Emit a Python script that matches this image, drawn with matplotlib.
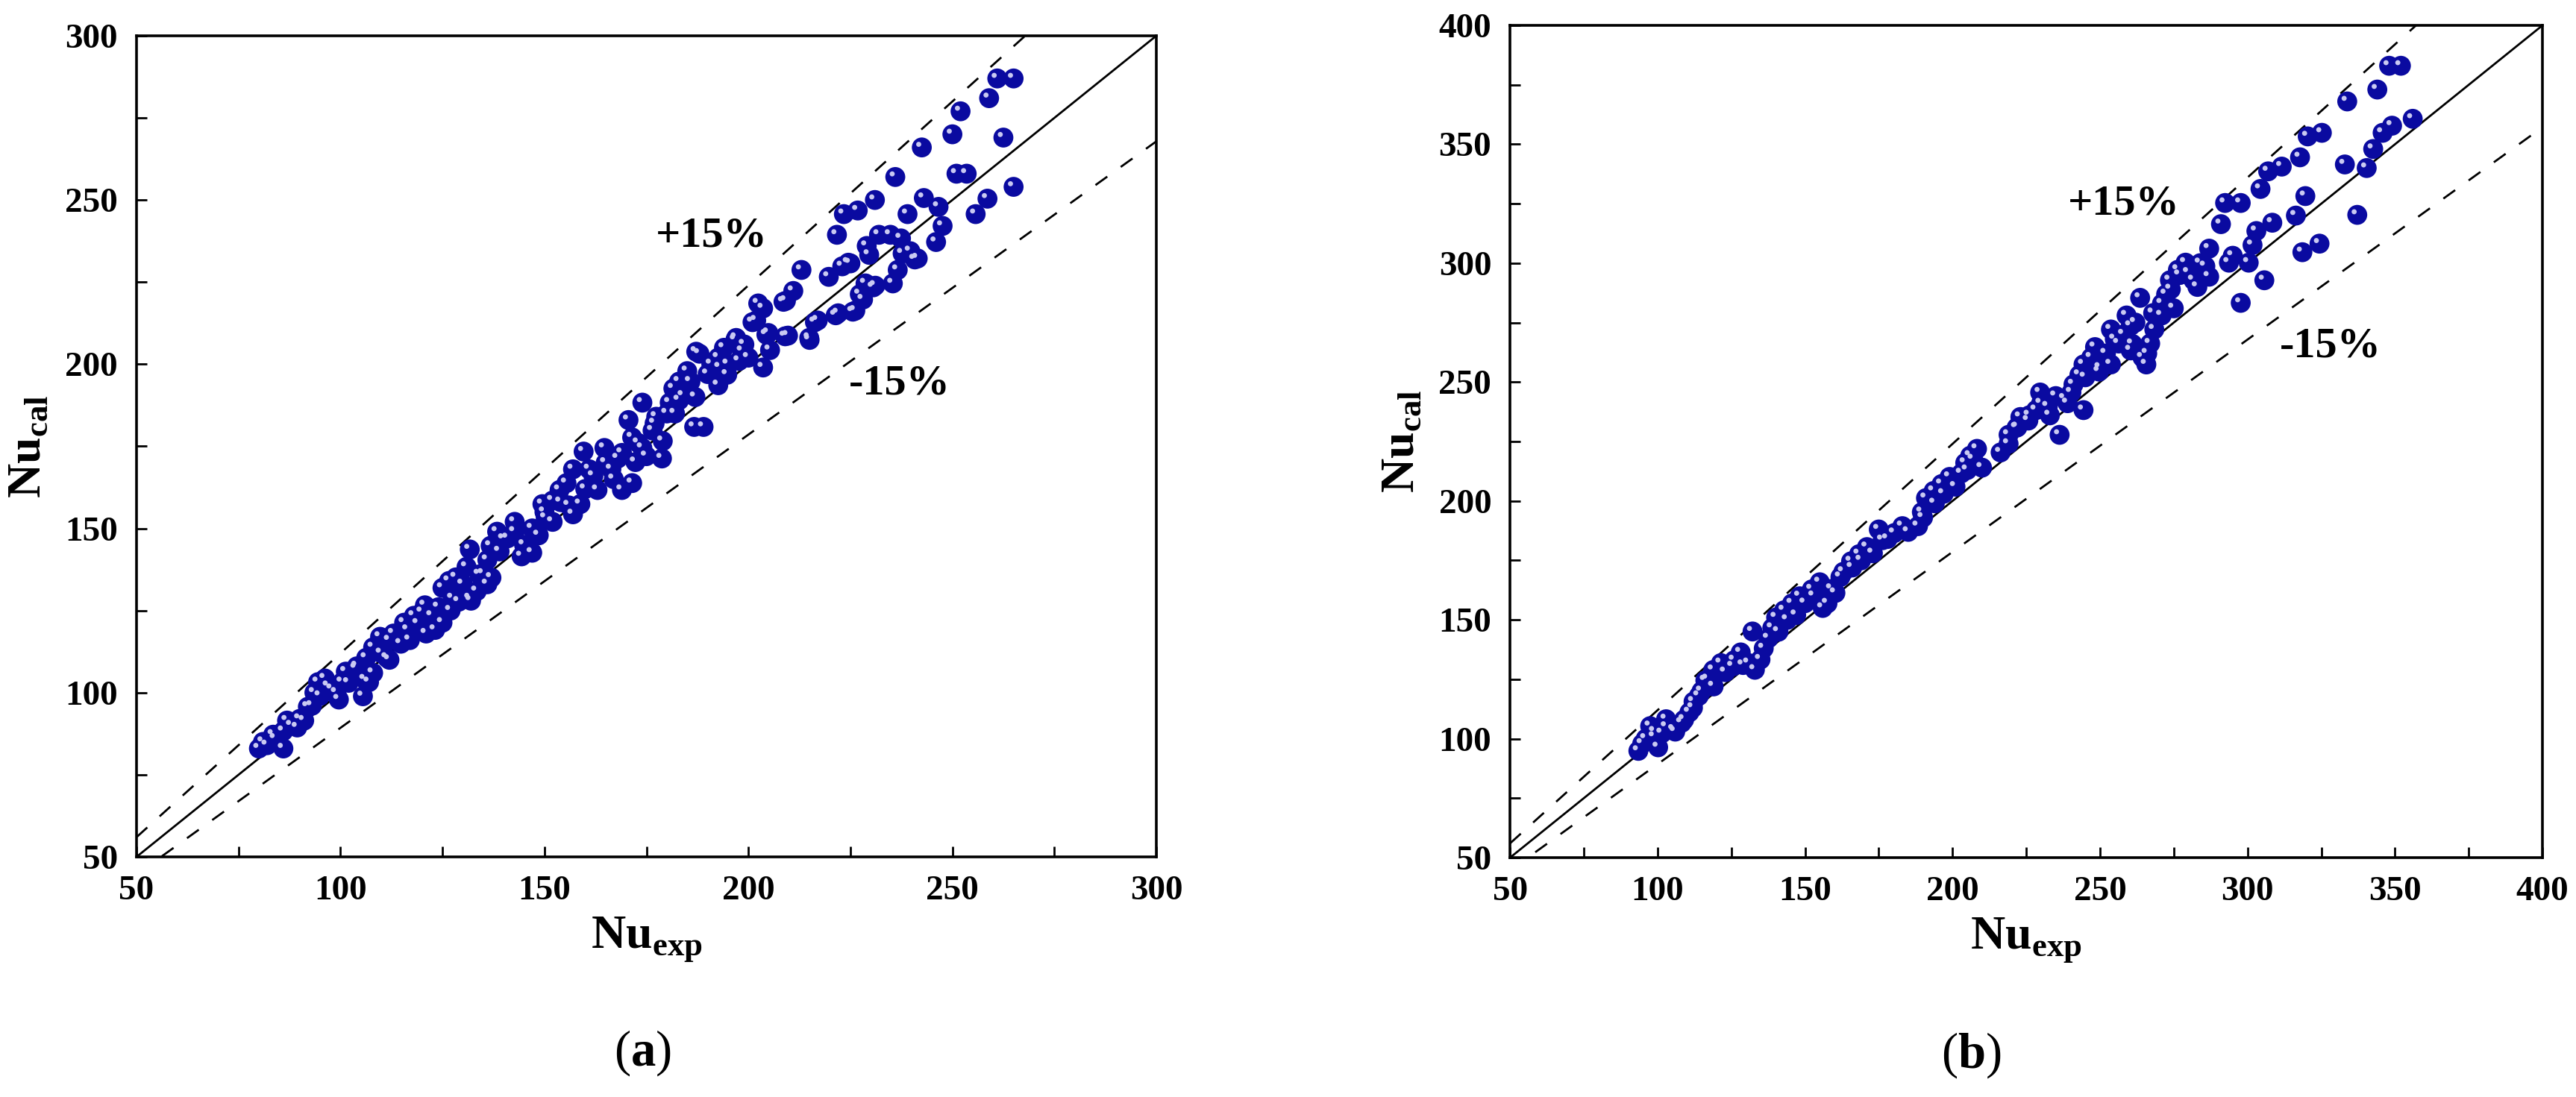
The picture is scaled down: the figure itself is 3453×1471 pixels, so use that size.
import numpy as np
import matplotlib
matplotlib.use("Agg")
import matplotlib.pyplot as plt
from matplotlib.ticker import MultipleLocator
import matplotlib.transforms as mtransforms

plt.rcParams['font.family'] = ['Liberation Serif', 'DejaVu Serif']
plt.rcParams['mathtext.fontset'] = 'custom'
plt.rcParams['mathtext.rm'] = 'Liberation Serif'
plt.rcParams['mathtext.bf'] = 'Liberation Serif:bold'

# ---------------- data: panel (a) ----------------
a_exp = [261, 265, 259, 252, 250, 262.5, 242.5, 236, 251, 253.5, 265, 258.6, 255.7, 243, 239,
         231, 226.8, 223.4, 221.7, 213, 211, 208.6, 202.4, 203.6, 232, 234.8, 237.4, 229,
         224.5, 219.7, 223, 246.6, 247.6, 246, 240.8, 236.6, 230.6, 227.3, 225.6, 221.4, 216.3,
         215, 209, 204.4, 205.3, 201, 203.6, 196.8, 197.7, 198.5, 194.8, 192.6, 190.9, 192.6,
         188, 185, 183, 185.8, 184, 181.6, 180.7, 180, 189, 186.7, 177.4, 176.5, 174, 179,
         178.8, 174, 171.5, 172.3, 171.5, 169, 168, 170.6, 164.7, 166.4, 162, 163, 159.6, 157,
         155.4, 158.8, 157, 153.7, 152, 149.5, 150.3, 148.6, 147, 144.4, 142.7, 140, 138.4,
         142.7, 136.8, 136, 131.7, 135, 136, 133.4, 130.9, 128.3, 131.7, 129, 127.5, 125, 126.6,
         125, 122.4, 123.2, 120.7, 120, 118, 116.5, 114.8, 115.6, 112, 111.4, 109.7, 108, 106.3,
         107, 105.5, 103.8, 101.3, 100.4, 99.6, 97.9, 96.2, 94.5, 93.6, 92, 91.1, 89.4, 86.9,
         86, 86, 83.5, 81, 80,
         229.6, 225, 241.5, 237.8, 239.7, 228.7, 231.1, 235.4, 209.2, 201.9, 228.1, 226.2, 222,
         217, 214.9, 209.7, 204.9, 197, 194, 187.2,
         82, 84, 88, 90, 93, 95, 97, 99, 102, 104, 106, 108, 110, 112, 113, 117, 119, 121, 124,
         127, 130, 132, 134, 137, 139, 141, 145, 147, 150, 152, 154, 156, 160, 161, 165, 167,
         169, 173, 175, 177, 182, 183, 187, 190, 193, 195, 199, 200]
a_cal = [287, 287, 281, 277, 270, 269, 266, 257, 258, 258, 254, 250.4, 245.7, 250.6, 245.7,
         250, 246.8, 245.7, 239.4, 228.7, 222.3, 219, 218.5, 217, 239.4, 239.4, 238.3, 236,
         230.9, 226.6, 229.8, 247.9, 242.1, 237.2, 231.9, 228.7, 223.4, 221.3, 216, 214.9, 212.8,
         207.4, 208.5, 209, 204.3, 212.8, 199, 207.4, 201, 204, 196.8, 193.6, 200, 202,
         203.2, 197.9, 194.7, 194.7, 190.4, 192.6, 188.3, 185, 180.9, 180.9, 184, 179.8, 188.3, 176.6,
         171.3, 174.5, 177.7, 170.2, 163.8, 161.7, 171.3, 183, 174.5, 168, 166, 161.7, 173.4, 168,
         163.8, 157.4, 154.3, 161.7, 158.5, 157.4, 153.2, 147.9, 142.6, 141.5, 149, 146.8, 149,
         152, 144.7, 140.4, 143.6, 136.2, 133, 130.9, 138.3, 135.1, 128.7, 127.7, 128.7, 131.9, 134,
         121.3, 123.4, 119.1, 126.6, 124.5, 123.4, 119.1, 114.9, 121.3, 115.9, 110.6, 117, 113.8, 110.6,
         103.2, 98.9, 107.4, 106.4, 103.2, 97.9, 101.1, 104.3, 103.2, 100, 95.7, 91.5, 89.4, 91.5,
         88.3, 83, 87.2, 85, 83,
         233.3, 230.7, 232.2, 233.7, 234.4, 224.6, 223.9, 224.6, 219.3, 213.3, 219.7, 216.3, 215.5,
         213.3, 208, 208.7, 209.5, 208, 205, 203.8,
         84, 86, 90, 92, 96, 99, 102, 100, 103, 108, 104, 106, 112, 110, 118, 116, 121, 118, 126,
         125, 133, 128, 136, 135, 143, 147, 145, 150, 155, 152, 158, 157, 162, 168, 170, 165,
         173, 176, 172, 182, 185, 189, 190, 197, 199, 200, 206, 202]

# ---------------- data: panel (b) ----------------
b_exp = [348, 352, 344, 333.8, 356, 349, 345.8, 342.6, 340.4, 333, 337.2, 325.2, 320.4, 317.8,
         311.6, 307, 304.4, 319.6, 316.4, 308.4, 303, 297.7, 292.4, 291, 324.4, 318.6, 305.7,
         297.7, 300.4, 295, 293.7, 301.7, 287, 285.7, 287, 281.7, 276.4, 279, 273.7, 272.4, 275,
         270.9, 268.4, 267, 263.6, 264.4, 265.7, 260.4, 259, 256.3, 253.7, 260.4, 253.7, 248.3,
         247, 249.7, 244.4, 243, 240.3, 239, 244.4, 235, 232.3, 236.3, 229.7, 228.3, 225.7, 223,
         221.7, 219, 216.3, 208.3, 207, 204.3, 203, 199, 196.3, 193.6, 191, 189.6, 188.3, 183,
         180.3, 176.3, 175, 171, 168.3, 165.6, 163, 160.3, 157.6, 155, 152.3, 148.2, 145.6, 142.9,
         140.2, 138.9, 137.6, 132.2, 134.9, 130.9, 128.2, 125.5, 121.5, 118.9, 116.2, 114.9, 112.2,
         110.8, 108.2, 105.5, 102.9, 101.5, 98.9, 97.5, 100.2, 94.8, 93.5,
         96, 99, 103, 106, 109, 112, 114, 117, 119, 123, 126, 129, 133, 136, 141, 144, 147, 150,
         153, 156, 159, 162, 166, 169, 173, 178, 185, 190, 194, 197, 201, 205, 206, 210, 219,
         222, 226, 230, 233, 238, 241, 245, 250, 252, 255, 258, 261, 262, 266, 268, 271, 274,
         277, 280, 283, 284]
b_cal = [383, 383, 373, 368, 360.7, 357.8, 354.8, 348, 340, 341.5, 320.3, 354.8, 353.3, 344.5,
         340.6, 338.6, 331.2, 328.2, 320, 317, 313.5, 325.3, 325.3, 316.4, 308.2, 304.6, 292.8,
         283.3, 300.2, 303.1, 300.2, 307.6, 306.1, 298.7, 294.3, 292.8, 297.2, 300.2, 292.8, 286.9, 281,
         278, 272.1, 266.2, 285.4, 260.3, 257.4, 273.6, 278, 266.2, 257.4, 263.3, 272.1, 264.7,
         260.3, 254.4, 257.4, 253, 245.6, 241.1, 238.2, 244.1, 239.7, 227.8, 245.6, 238.2, 233.8, 235.3,
         230.8, 227.8, 220.4, 221.9, 217.5, 216, 211.6, 210.1, 207.1, 204.2, 201.2, 195.3, 189.4, 189.4,
         186.5, 183.5, 188, 180.6, 177.6, 174.6, 170.2, 161.3, 156.9, 165.8, 162.8, 159.9, 156.9, 154,
         151, 146.6, 142.2, 145.1, 133.3, 131.8, 136.3, 130.4, 131.8, 128.9, 124.5, 120, 115.6,
         111.1, 106.7, 103.8, 108.2, 102.3, 100.8, 105.3, 96.4, 97.9, 94.9,
         100, 103, 105, 103, 108, 113, 118, 125, 122, 128, 133, 131, 129, 138, 145, 150, 152, 157,
         160, 155, 163, 168, 172, 175, 178, 184, 187, 193, 199, 203, 206, 213, 219, 214, 224,
         231, 236, 241, 236, 243, 249, 252, 256, 262, 268, 270, 266, 275, 262, 279, 283, 289,
         295, 296, 290, 300]

band_factor = 1.12
panels = [
    dict(x=a_exp, y=a_cal, lim=(50, 300), label='a',
         plus_xy=(191, 239), minus_xy=(237, 194)),
    dict(x=b_exp, y=b_cal, lim=(50, 400), label='b',
         plus_xy=(258, 325), minus_xy=(328, 265)),
]

fig = plt.figure(figsize=(34.53, 14.71), dpi=100)
axes_rects = [[0.0530, 0.2189, 0.3959, 0.7485], [0.5862, 0.2182, 0.4008, 0.7587]]
caption_pos = [(861 / 3453, 1 - 1412 / 1471), (2642 / 3453, 1 - 1415 / 1471)]

for p, rect, cap in zip(panels, axes_rects, caption_pos):
    ax = fig.add_axes(rect)
    lo, hi = p['lim']
    line_x = np.array([lo, hi])
    ax.plot(line_x, line_x, color='black', lw=2.0, zorder=2)
    ax.plot(line_x, band_factor * line_x, color='black', lw=2.0, dashes=(7, 8), zorder=2)
    ax.plot(line_x, line_x / band_factor, color='black', lw=2.0, dashes=(7, 8), zorder=2)

    ax.scatter(p['x'], p['y'], s=370, color='#0a0aa0', edgecolors='none', zorder=3)
    hl = mtransforms.offset_copy(ax.transData, fig=fig, x=-3, y=3, units='points')
    ax.scatter(p['x'], p['y'], s=24, color='#c9c9f2', edgecolors='none', zorder=4, transform=hl)

    ax.set_xlim(lo, hi)
    ax.set_ylim(lo, hi)
    ax.xaxis.set_major_locator(MultipleLocator(50))
    ax.yaxis.set_major_locator(MultipleLocator(50))
    ax.xaxis.set_minor_locator(MultipleLocator(25))
    ax.yaxis.set_minor_locator(MultipleLocator(25))
    ax.tick_params(which='both', direction='in', top=False, right=False,
                   length=10, width=2)
    ax.tick_params(which='major', labelsize=34, pad=18)
    for lab in ax.get_xticklabels() + ax.get_yticklabels():
        lab.set_fontweight('bold')
    for s in ax.spines.values():
        s.set_linewidth(2.6)

    ax.set_xlabel(r'$\mathbf{Nu}_{\mathbf{exp}}$', fontsize=46, labelpad=8)
    ax.set_ylabel(r'$\mathbf{Nu}_{\mathbf{cal}}$', fontsize=46, labelpad=14)

    ax.text(*p['plus_xy'], '+15%', fontsize=42, fontweight='bold', ha='center', va='center')
    ax.text(*p['minus_xy'], '-15%', fontsize=42, fontweight='bold', ha='center', va='center')

    fig.text(cap[0], cap[1], r'($\mathbf{' + p['label'] + r'}$)', fontsize=48,
             ha='center', va='center')

fig.savefig('out.png', dpi=100, facecolor='white')
